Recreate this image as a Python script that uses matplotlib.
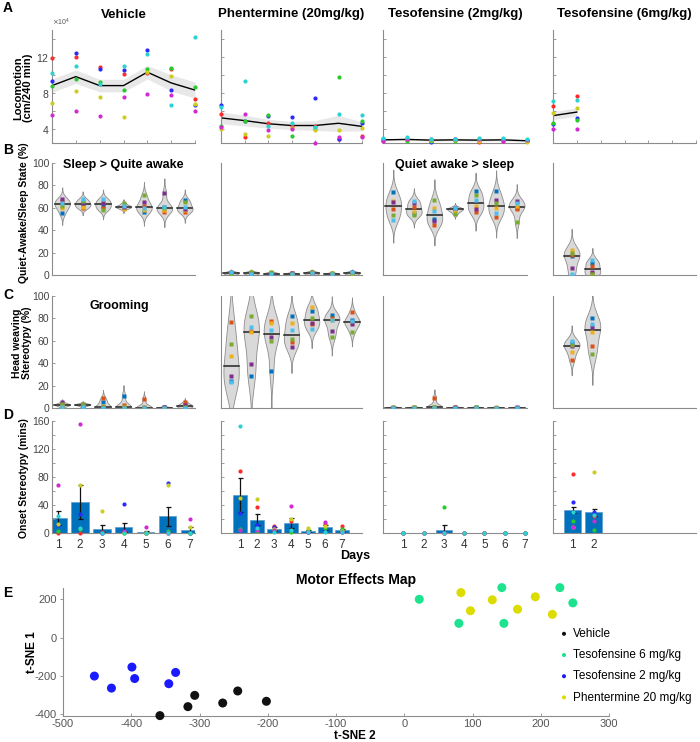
import matplotlib
matplotlib.use("Agg")
import matplotlib.pyplot as plt
import numpy as np

plt.rcParams['font.family'] = ['Liberation Sans', 'DejaVu Sans']
plt.rcParams['axes.unicode_minus'] = False

W, H = 700, 742
days = np.arange(1, 8)
groups = ["Vehicle", "Phentermine (20mg/kg)", "Tesofensine (2mg/kg)", "Tesofensine (6mg/kg)"]

# animal colours: A and D use r, b, c, g, y, m ; B and C use matlab default order
rgb_cols = ['#ff2a2a', '#2a2aff', '#2ad2d2', '#2ac82a', '#cccc22', '#d22ad2']
draw_order = [0, 1, 3, 4, 5, 2]
mat_cols = ['#0072BD', '#D95319', '#EDB120', '#7E2F8E', '#77AC30', '#4DBEEE']

# ---- A: locomotion (x10^4 cm / 240 min), per day: r, b, c, g, y, m
loco_veh = [[11.85, 9.3, 10.2, 8.8, 6.85, 5.55],
            [11.95, 12.4, 11.0, 9.55, 8.2, 6.0],
            [10.85, 10.65, 9.0, 9.2, 7.5, 5.45],
            [10.1, 10.55, 11.0, 8.35, 5.3, 7.5],
            [10.25, 12.8, 12.3, 10.6, 10.3, 7.85],
            [10.6, 8.35, 6.65, 10.8, 9.9, 7.7],
            [7.3, 6.6, 14.25, 8.6, 6.75, 6.0]]
loco_phen = [[5.65, 6.6, 6.4, 4.25, 3.95, 4.15],
             [3.05, 4.9, 9.3, 4.9, 3.45, 5.65],
             [4.65, 5.4, 4.25, 5.55, 3.15, 3.9],
             [4.25, 5.3, 4.65, 3.15, 4.1, 4.0],
             [4.3, 7.4, 4.15, 4.0, 3.8, 2.4],
             [2.9, 2.8, 5.6, 9.75, 3.8, 3.05],
             [3.15, 4.65, 5.5, 4.8, 4.1, 3.05]]
loco_tes2 = [[2.6, 2.9, 2.95, 2.7, 2.75, 2.6],
             [2.7, 2.85, 3.05, 2.6, 2.8, 2.9],
             [2.75, 2.5, 2.9, 2.65, 2.7, 2.85],
             [2.7, 2.8, 2.85, 2.6, 2.75, 2.9],
             [2.55, 2.75, 2.95, 2.7, 2.65, 2.8],
             [2.6, 2.85, 3.0, 2.7, 2.75, 2.6],
             [2.65, 2.7, 2.85, 2.6, 2.55, 2.7]]
loco_tes6 = [[6.5, 4.55, 7.05, 4.65, 5.75, 3.95],
             [7.65, 5.2, 7.15, 5.0, 6.3, 3.95]]
loco_mean = [[8.8, 9.8, 8.8, 8.8, 10.3, 9.1, 8.3],
             [5.2, 4.9, 4.55, 4.35, 4.35, 4.6, 4.25],
             [2.75, 2.8, 2.72, 2.75, 2.72, 2.75, 2.65],
             [5.45, 5.85]]
loco_sem = [[0.75, 0.75, 0.7, 0.7, 0.75, 0.9, 0.9],
            [0.65, 0.6, 0.5, 0.45, 0.55, 0.9, 0.5],
            [0.12, 0.12, 0.12, 0.12, 0.12, 0.12, 0.12],
            [0.45, 0.45]]

# ---- B: quiet-awake / sleep state (%), per day: blue, orange, yellow, purple, green, cyan
sleep_veh = [[55, 66, 60, 68, 62, 64], [63, 60, 61, 64, 66, 68],
             [62, 60, 66, 64, 58, 68], [61, 60.5, 59, 61, 64, 62],
             [56, 62, 58, 65, 71, 60], [60.5, 56, 58, 73, 60, 61],
             [67, 56, 58, 59, 65, 61]]
sleep_phen = [[1.5, 2.5, 1, 2, 0.5, 3], [2, 1, 3, 1.5, 2.5, 0.5],
              [1, 2, 0.5, 1.5, 2.5, 1], [0.5, 1.5, 1, 2, 0.5, 1],
              [1, 2.5, 0.5, 1.5, 3, 2], [0.5, 1, 1.5, 0.5, 2, 1],
              [1, 2, 0.5, 3, 1.5, 2.5]]
sleep_tes2 = [[74, 59, 66, 65, 53.7, 49], [55, 60.6, 56.5, 64.7, 53.7, 66],
              [50, 44.8, 59.7, 48, 67, 56.7], [59, 58, 57, 59.5, 54.6, 60],
              [75, 56, 62, 59, 71.6, 67], [75, 51.9, 59.5, 67, 64.4, 55.8],
              [60, 59, 62, 66.5, 47.7, 64.4]]
sleep_tes6 = [[17.3, 17.5, 22.4, 6.5, 19.4, 0.5], [10.5, 8, 1.5, 3, 1, 13]]

# ---- C: head weaving stereotypy (%)
head_veh = [[3, 3, 2.5, 5, 3.5, 1], [3.5, 2.5, 4, 3, 3, 1],
            [5.5, 8.5, 1.5, 0.5, 0.5, 0], [11, 2.5, 0.5, 0.3, 0.5, 0],
            [0.5, 8, 1, 0.3, 0.2, 0], [0.5, 0.3, 0.2, 1, 0.4, 0],
            [2.5, 5, 1.5, 3, 1, 0]]
head_phen = [[24.2, 76.4, 46.4, 28.7, 56.8, 23], [28.7, 68.6, 67.5, 39, 82, 72],
             [33.4, 77.8, 75.5, 63, 59.8, 69.5], [82, 59, 76, 54.7, 61.5, 69.5],
             [86.7, 74.9, 90, 76, 80.8, 70.2], [82.9, 80.8, 79, 69, 63.6, 78.4],
             [79, 85.8, 76, 74.6, 68, 77.8]]
head_tes2 = [[0.5, 0.3, 0.8, 0.2, 0.4, 0], [0.4, 0.6, 0.2, 0.3, 0.5, 0],
             [1, 9, 0.5, 0.3, 0.8, 0], [0.3, 0.5, 0.2, 0.6, 0.4, 0],
             [0.5, 0.2, 0.4, 0.3, 0.6, 0], [0.2, 0.4, 0.5, 0.3, 0.2, 0],
             [0.4, 0.3, 0.2, 0.5, 0.3, 0]]
head_tes6 = [[58, 43, 50, 55, 56, 60], [80, 55, 68, 72, 48, 75]]

# ---- D: onset of stereotypy (mins), per day: r, b, c, g, y, m
onset_veh = [[0, 12, 23.6, 2.3, 13.2, 68.6], [0, 27, 7, 6, 68.6, 156],
             [1, 0, 0, 0, 32, 0], [2, 41.6, 0, 0, 0, 3],
             [0, 0, 0, 0, 0, 8], [0, 71, 0, 3, 68.6, 0],
             [0, 0, 0, 0, 8.5, 20]]
onset_phen = [[89, 28.4, 152.4, 6, 50.6, 3.7], [37.8, 11.8, 7, 3, 48.3, 5],
              [10, 8, 1, 6, 6, 5], [16.5, 3, 4.7, 2, 20.3, 38.8],
              [2, 1, 1, 5, 7, 2], [12.8, 5, 1, 7, 10, 15.6],
              [9.5, 2, 1.5, 6, 3, 1]]
onset_tes2 = [[0, 0, 0, 0, 0, 0], [0, 0, 0, 0, 0, 0], [0, 0, 0, 37.8, 0, 0],
              [0, 0, 0, 0, 0, 0], [0, 0, 0, 0, 0, 0], [0, 0, 0, 0, 0, 0],
              [0, 0, 0, 0, 0, 0]]
onset_tes6 = [[84, 44, 30, 16.5, 9, 8], [24.6, 30, 26, 4.7, 87.6, 16.5]]
onset_mean = [[21.3, 44, 6, 8, 1.5, 23.6, 4.7],
              [54.4, 18.9, 6, 14.2, 3.3, 8, 3.8],
              [0, 0, 4.7, 0, 0, 0, 0],
              [33, 29.8]]
onset_sem = [[10.5, 24, 5, 7, 2, 14, 4],
             [23.7, 7.6, 3, 7, 1.5, 3.8, 2],
             [0, 0, 7, 0, 0, 0, 0],
             [4.5, 5]]

# ---- E: t-SNE map
tsne_x = {'Vehicle': [-358, -317, -307, -266, -244, -202],
          'Tesofensine 6 mg/kg': [22, 80, 143, 146, 228, 247],
          'Tesofensine 2 mg/kg': [-454, -429, -399, -395, -345, -335],
          'Phentermine 20 mg/kg': [83, 97, 129, 166, 192, 217]}
tsne_y = {'Vehicle': [-408, -361, -302, -342, -279, -333],
          'Tesofensine 6 mg/kg': [201, 75, 262, 75, 262, 182],
          'Tesofensine 2 mg/kg': [-201, -264, -154, -214, -241, -182],
          'Phentermine 20 mg/kg': [236, 141, 198, 149, 214, 122]}
tsne_cols = ['#111111', '#1de38f', '#1a1aff', '#dcdc00']

fig = plt.figure(figsize=(W / 100, H / 100), dpi=100)


def px_axes(x0, x1, y0, y1):
    return fig.add_axes([x0 / W, 1 - y1 / H, (x1 - x0) / W, (y1 - y0) / H])


def style(ax, xdir='in', ydir='in'):
    for s in ['top', 'right']:
        ax.spines[s].set_visible(False)
    for s in ['left', 'bottom']:
        ax.spines[s].set_color('#8c8c8c')
        ax.spines[s].set_linewidth(0.8)
    ax.tick_params(axis='x', direction=xdir, colors='#8c8c8c', labelcolor='#333333',
                   length=2.5, width=0.6, labelsize=8.5, pad=2)
    ax.tick_params(axis='y', which='both', direction=ydir, colors='#8c8c8c', labelcolor='#444444',
                   length=2.5, width=0.6, labelsize=7.5, pad=2)


def violin(ax, x, vals, cols):
    v = np.asarray(vals, float)
    bw = 1.06 * max(v.std(ddof=1), 0.8) * len(v) ** -0.2
    ys = np.linspace(v.min() - 3 * bw, v.max() + 3 * bw, 200)
    dens = np.exp(-0.5 * ((ys[:, None] - v[None, :]) / bw) ** 2).sum(1)
    dens = dens / dens.max() * 0.38
    ax.fill_betweenx(ys, x - dens, x + dens, facecolor='#d9d9d9', edgecolor='#8c8c8c',
                     lw=0.6, zorder=1)
    med = np.median(v)
    hw = np.interp(med, ys, dens)
    ax.plot([x - hw, x + hw], [med, med], color='#222222', lw=1.1, zorder=2)
    for val, c in zip(v, cols):
        ax.plot(x, val, 's', ms=2.4, mec='none', color=c, zorder=3)


cols_px = [(52, 195), (221, 362), (383, 527), (553, 696)]

# ---------------- row A
loco_all = [loco_veh, loco_phen, loco_tes2, loco_tes6]
for i, (x0, x1) in enumerate(cols_px):
    ax = px_axes(x0, x1, 30, 143)
    style(ax)
    pts = np.array(loco_all[i]) * 1e4
    d = np.arange(1, len(pts) + 1)
    m = np.array(loco_mean[i]) * 1e4
    e = np.array(loco_sem[i]) * 1e4
    ax.fill_between(d, m - e, m + e, color='#e8e8e8', lw=0, zorder=1)
    ax.plot(d, m, color='k', lw=1.0, zorder=2)
    for k in draw_order:
        ax.plot(d, pts[:, k], 'o', ms=3, mec='none', color=rgb_cols[k], zorder=3, clip_on=False)
    ax.set_xlim(1, 7)
    ax.set_ylim(2.4e4, 15e4)
    ax.set_xticks(days)
    ax.set_xticklabels([])
    ax.set_yticks([4e4, 8e4, 12e4])
    ax.set_yticks([6e4, 10e4, 14e4], minor=True)
    ax.tick_params(axis='y', which='minor', length=2.5)
    if i == 0:
        ax.ticklabel_format(axis='y', style='sci', scilimits=(4, 4), useMathText=True)
        ax.yaxis.get_offset_text().set_fontsize(5)
        ax.yaxis.get_offset_text().set_color('#555555')
    else:
        ax.set_yticklabels([])
    ax.set_title(groups[i], fontsize=9.5, fontweight='bold', pad=9)

# ---------------- rows B and C
sleep_all = [sleep_veh, sleep_phen, sleep_tes2, sleep_tes6]
head_all = [head_veh, head_phen, head_tes2, head_tes6]
vio_xlim = [(0.5, 7.5), (0.5, 7.5), (0.5, 7.5), (0.1, 7.0)]
for row, data, (y0, y1) in [(0, sleep_all, (163, 275)), (1, head_all, (296, 408))]:
    for i, (x0, x1) in enumerate(cols_px):
        ax = px_axes(x0, x1, y0, y1)
        style(ax)
        for j, vals in enumerate(data[i]):
            violin(ax, j + 1, vals, mat_cols)
        ax.set_xlim(*vio_xlim[i])
        ax.set_ylim(0, 100)
        ax.set_xticks([])
        ax.set_yticks(np.arange(0, 101, 20))
        if i > 0:
            ax.set_yticklabels([])
            ax.tick_params(axis='y', length=0)
        if row == 0 and i == 0:
            ax.text(0.5, 0.98, "Sleep > Quite awake", transform=ax.transAxes, ha='center',
                    va='center', fontsize=9, fontweight='bold')
        if row == 0 and i == 2:
            ax.text(0.5, 0.98, "Quiet awake > sleep", transform=ax.transAxes, ha='center',
                    va='center', fontsize=9, fontweight='bold')
        if row == 1 and i == 0:
            ax.text(0.47, 0.91, "Grooming", transform=ax.transAxes, ha='center',
                    va='center', fontsize=9, fontweight='bold')

# ---------------- row D
onset_all = [onset_veh, onset_phen, onset_tes2, onset_tes6]
bar_xlim = [(0.73, 7.25), (-0.13, 8.18), (0.0, 7.1), (0.05, 6.9)]
for i, (x0, x1) in enumerate(cols_px):
    ax = px_axes(x0, x1, 421, 533)
    style(ax)
    pts = np.array(onset_all[i])
    d = np.arange(1, len(pts) + 1)
    m = np.array(onset_mean[i])
    e = np.array(onset_sem[i])
    ax.bar(d, m, width=0.8, color='#0072BD', edgecolor='#5b9bd0', lw=0.5, zorder=1)
    ok = e > 0
    ax.errorbar(d[ok], m[ok], yerr=e[ok], fmt='none', ecolor='#111111', elinewidth=0.9,
                capsize=1.8, capthick=0.9, zorder=2)
    for k in draw_order:
        ax.plot(d, pts[:, k], 'o', ms=3, mec='none', color=rgb_cols[k], zorder=3, clip_on=False)
    ax.set_xlim(*bar_xlim[i])
    ax.set_ylim(0, 160)
    ax.set_xticks(d)
    ax.tick_params(axis='x', length=0, pad=4)
    ax.set_yticks([0, 40, 80, 120, 160])
    ax.set_yticks([20, 60, 100, 140], minor=True)
    ax.tick_params(axis='y', which='minor', length=2.5)
    if i > 0:
        ax.set_yticklabels([])

# ---------------- E
ax = px_axes(63, 609, 588, 716)
style(ax, xdir='in', ydir='out')
for c, name in zip(tsne_cols, tsne_x):
    ax.scatter(tsne_x[name], tsne_y[name], s=42, color=c, label=name, zorder=3, clip_on=False,
               edgecolors='none')
ax.set_xlim(-500, 300)
ax.set_ylim(-410, 260)
ax.set_xticks(np.arange(-500, 301, 100))
ax.set_yticks([-400, -200, 0, 200])
ax.tick_params(axis='both', labelsize=8, colors='#8c8c8c', labelcolor='#555555')
ax.tick_params(axis='x', pad=2)
ax.legend(loc='upper left', bbox_to_anchor=(551 / W, 1 - 622 / H), bbox_transform=fig.transFigure,
          frameon=False, fontsize=8.5, markerscale=0.45, handletextpad=0.2, labelspacing=0.78,
          borderpad=0, handlelength=1.2)

# ---------------- labels
fig.text(356 / W, 1 - 580 / H, "Motor Effects Map", ha='center', va='center', fontsize=10,
         fontweight='bold')
fig.text(355 / W, 1 - 736 / H, "t-SNE 2", ha='center', va='center', fontsize=8.5, fontweight='bold')
fig.text(32 / W, 1 - 652 / H, "t-SNE 1", ha='center', va='center', fontsize=8.5, fontweight='bold',
         rotation=90)
fig.text(355 / W, 1 - 556 / H, "Days", ha='center', va='center', fontsize=9, fontweight='bold')
fig.text(23 / W, 1 - 88 / H, "Locomotion\n(cm/240 min)", ha='center', va='center', fontsize=8,
         fontweight='bold', rotation=90, linespacing=1.0)
fig.text(24 / W, 1 - 213 / H, "Quiet-Awake/Sleep State (%)", ha='center', va='center', fontsize=7.5,
         fontweight='bold', rotation=90)
fig.text(22 / W, 1 - 343 / H, "Head weaving\nStereotypy (%)", ha='center', va='center', fontsize=7.5,
         fontweight='bold', rotation=90, linespacing=1.0)
fig.text(24 / W, 1 - 478 / H, "Onset Stereotypy (mins)", ha='center', va='center', fontsize=7.5,
         fontweight='bold', rotation=90)
for lab, yy in [("A", 8), ("B", 150), ("C", 295), ("D", 415), ("E", 593)]:
    fig.text(3 / W, 1 - yy / H, lab, ha='left', va='center', fontsize=10, fontweight='bold')

fig.savefig("out.png", dpi=100)
